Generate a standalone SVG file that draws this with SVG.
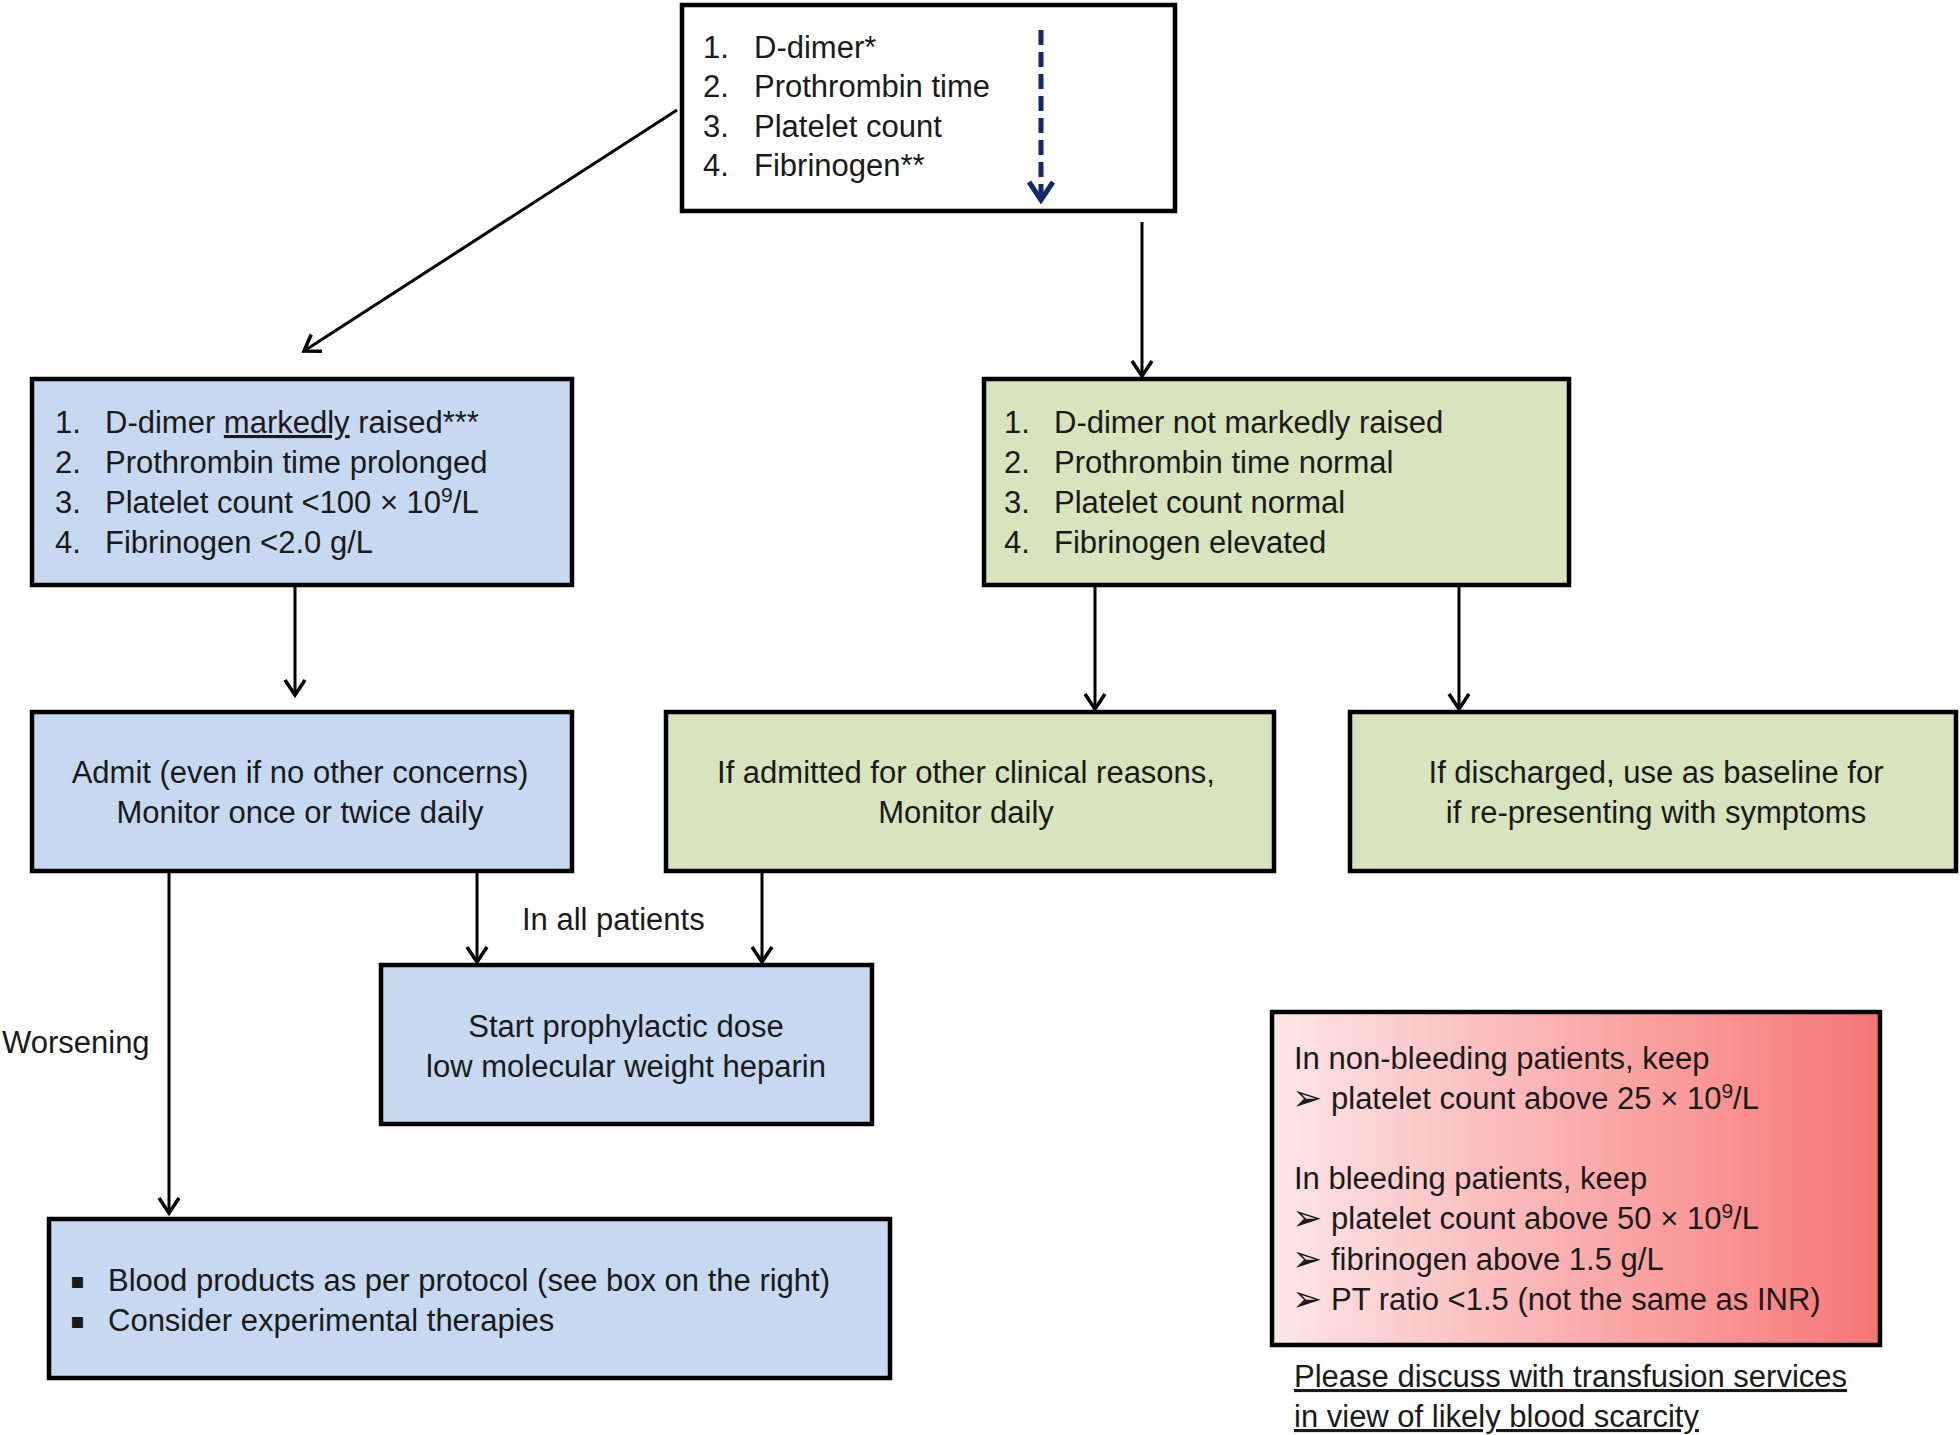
<svg xmlns="http://www.w3.org/2000/svg" width="1960" height="1435" viewBox="0 0 1960 1435">
<style>
  text { font-family: "Liberation Sans", Arial, sans-serif; font-size: 31px; fill: #1a1a1a; }
  .c { text-anchor: middle; }
  .box { stroke: #000; stroke-width: 4.5; }
  .white { fill: #fff; }
  .blue { fill: #c6d9f1; }
  .green { fill: #d7e4bd; }
  .conn { stroke: #000; stroke-width: 3; fill: none; marker-end: url(#arr); }
  .sym { font-family: "DejaVu Sans", sans-serif; font-size: 22px; }
  .arw { font-family: "DejaVu Sans", sans-serif; font-size: 36px; }
</style>
<defs>
  <marker id="arr" viewBox="0 0 24 24" refX="21" refY="12" markerWidth="24" markerHeight="24" markerUnits="userSpaceOnUse" orient="auto">
    <path d="M6,2 L21,12 L6,22" fill="none" stroke="#000" stroke-width="3.5"/>
  </marker>
  <marker id="arrNavy" viewBox="0 0 30 30" refX="26" refY="15" markerWidth="30" markerHeight="30" markerUnits="userSpaceOnUse" orient="auto">
    <path d="M8,3 L26,15 L8,27" fill="none" stroke="#13296b" stroke-width="5"/>
  </marker>
  <linearGradient id="redGrad" x1="0" y1="0" x2="1" y2="0">
    <stop offset="0" stop-color="#fde6e6"/>
    <stop offset="1" stop-color="#f77676"/>
  </linearGradient>
</defs>

<g id="connectors">
  <path class="conn" d="M677,110 L304,351"/>
  <path class="conn" d="M1142,222 L1142,376"/>
  <path class="conn" d="M295,587 L295,695"/>
  <path class="conn" d="M1095,587 L1095,709"/>
  <path class="conn" d="M1459,587 L1459,709"/>
  <path class="conn" d="M169,873 L169,1213"/>
  <path class="conn" d="M477,873 L477,962"/>
  <path class="conn" d="M762,873 L762,962"/>
  <text x="522" y="930">In all patients</text>
  <text x="2" y="1053">Worsening</text>
</g>

<g id="tests">
  <rect class="box white" x="682" y="5" width="493" height="206"/>
  <text x="703" y="58">1.</text><text x="754" y="58">D-dimer*</text>
  <text x="703" y="97">2.</text><text x="754" y="97">Prothrombin time</text>
  <text x="703" y="137">3.</text><text x="754" y="137">Platelet count</text>
  <text x="703" y="176">4.</text><text x="754" y="176">Fibrinogen**</text>
  <path d="M1041,30 L1041,200" fill="none" stroke="#13296b" stroke-width="5" stroke-dasharray="15,7" marker-end="url(#arrNavy)"/>
</g>

<g id="abnormal">
  <rect class="box blue" x="32" y="379" width="540" height="206"/>
  <text x="55" y="433">1.</text><text x="105" y="433">D-dimer <tspan text-decoration="underline">markedly</tspan> raised***</text>
  <text x="55" y="473">2.</text><text x="105" y="473">Prothrombin time prolonged</text>
  <text x="55" y="513">3.</text><text x="105" y="513">Platelet count &lt;100 × 10<tspan dy="-11" font-size="21">9</tspan><tspan dy="11">/L</tspan></text>
  <text x="55" y="553">4.</text><text x="105" y="553">Fibrinogen &lt;2.0 g/L</text>
</g>

<g id="normal">
  <rect class="box green" x="984" y="379" width="585" height="206"/>
  <text x="1004" y="433">1.</text><text x="1054" y="433">D-dimer not markedly raised</text>
  <text x="1004" y="473">2.</text><text x="1054" y="473">Prothrombin time normal</text>
  <text x="1004" y="513">3.</text><text x="1054" y="513">Platelet count normal</text>
  <text x="1004" y="553">4.</text><text x="1054" y="553">Fibrinogen elevated</text>
</g>

<g id="admit">
  <rect class="box blue" x="32" y="712" width="540" height="159"/>
  <text class="c" x="300" y="783">Admit (even if no other concerns)</text>
  <text class="c" x="300" y="823">Monitor once or twice daily</text>
</g>

<g id="admitted-other">
  <rect class="box green" x="666" y="712" width="608" height="159"/>
  <text class="c" x="966" y="783">If admitted for other clinical reasons,</text>
  <text class="c" x="966" y="823">Monitor daily</text>
</g>

<g id="discharged">
  <rect class="box green" x="1350" y="712" width="606" height="159"/>
  <text class="c" x="1656" y="783">If discharged, use as baseline for</text>
  <text class="c" x="1656" y="823">if re-presenting with symptoms</text>
</g>

<g id="prophylaxis">
  <rect class="box blue" x="381" y="965" width="491" height="159"/>
  <text class="c" x="626" y="1037">Start prophylactic dose</text>
  <text class="c" x="626" y="1077">low molecular weight heparin</text>
</g>

<g id="blood-products">
  <rect class="box blue" x="49" y="1219" width="841" height="159"/>
  <text class="sym" x="70" y="1288">▪</text><text x="108" y="1291">Blood products as per protocol (see box on the right)</text>
  <text class="sym" x="70" y="1328">▪</text><text x="108" y="1331">Consider experimental therapies</text>
</g>

<g id="transfusion">
  <rect class="box" x="1272" y="1012" width="608" height="333" fill="url(#redGrad)"/>
  <text x="1294" y="1069">In non-bleeding patients, keep</text>
  <text class="arw" x="1292" y="1110">➢</text><text x="1331" y="1109">platelet count above 25 × 10<tspan dy="-11" font-size="21">9</tspan><tspan dy="11">/L</tspan></text>
  <text x="1294" y="1189">In bleeding patients, keep</text>
  <text class="arw" x="1292" y="1230">➢</text><text x="1331" y="1229">platelet count above 50 × 10<tspan dy="-11" font-size="21">9</tspan><tspan dy="11">/L</tspan></text>
  <text class="arw" x="1292" y="1271">➢</text><text x="1331" y="1270">fibrinogen above 1.5 g/L</text>
  <text class="arw" x="1292" y="1311">➢</text><text x="1331" y="1310">PT ratio &lt;1.5 (not the same as INR)</text>
</g>

<g id="note">
  <text x="1294" y="1387" text-decoration="underline">Please discuss with transfusion services</text>
  <text x="1294" y="1427" text-decoration="underline">in view of likely blood scarcity </text>
</g>
</svg>
